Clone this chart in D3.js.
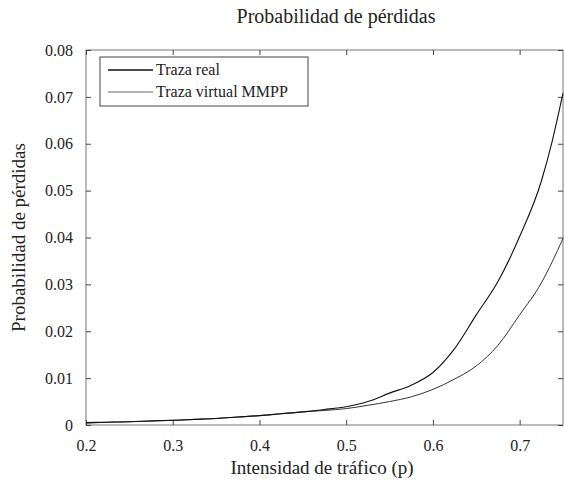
<!DOCTYPE html>
<html>
<head>
<meta charset="utf-8">
<script src="https://cdn.jsdelivr.net/npm/d3@7"></script>
<style>
  html, body { margin: 0; padding: 0; background: #fff; }
  svg { display: block; }
  svg text { font-family: "Liberation Serif", "DejaVu Serif", "Times New Roman", serif; }
</style>
</head>
<body>
<svg id="chart" width="564" height="485"></svg>
<script>
// ---- data ----
const rho = [0.2, 0.225, 0.25, 0.275, 0.3, 0.325, 0.35, 0.375, 0.4, 0.425, 0.45, 0.475,
             0.5, 0.525, 0.55, 0.575, 0.6, 0.625, 0.65, 0.675, 0.7, 0.725, 0.7375, 0.75];
const trazaReal = [0.0005, 0.0006, 0.0007, 0.0009, 0.0010, 0.0012, 0.0014, 0.0017, 0.0020, 0.0024, 0.0028, 0.0033,
                   0.0039, 0.0050, 0.0068, 0.0085, 0.0112, 0.0163, 0.0235, 0.0306, 0.0402, 0.0520, 0.0605, 0.0708];
const trazaVirtual = [0.0004, 0.0006, 0.0007, 0.0008, 0.0010, 0.0012, 0.0014, 0.0017, 0.0020, 0.0024, 0.0028, 0.0031,
                      0.0035, 0.0042, 0.0050, 0.0060, 0.0076, 0.0098, 0.0126, 0.0170, 0.0235, 0.0303, 0.0348, 0.0398];
const xTicks = [0.2, 0.3, 0.4, 0.5, 0.6, 0.7];
const yTicks = [0, 0.01, 0.02, 0.03, 0.04, 0.05, 0.06, 0.07, 0.08];
const seriesNames = ["Traza real", "Traza virtual MMPP"];
const titleText = "Probabilidad de pérdidas";
const xLabel = "Intensidad de tráfico (p)";
const yLabel = "Probabilidad de pérdidas";

// ---- layout ----
const FONT = '"Liberation Serif", "DejaVu Serif", "Times New Roman", serif';
const L = 86, R = 563, T = 50, B = 425;
const svg = d3.select("#chart");
const x = d3.scaleLinear().domain([0.2, 0.75]).range([L, R]);
const y = d3.scaleLinear().domain([0, 0.08]).range([B, T]);
const axisColor = "#777";
const tickLen = 5;

// box
svg.append("rect").attr("x", L).attr("y", T).attr("width", R - L).attr("height", B - T)
  .attr("fill", "none").attr("stroke", axisColor).attr("stroke-width", 1);

function styleAxis(g) {
  g.attr("font-family", FONT);
  g.select(".domain").remove();
  g.selectAll(".tick line").attr("stroke", "#444");
  g.selectAll(".tick text").attr("fill", "#222").attr("font-size", 16)
    .style("font-family", FONT);
}

// bottom axis (ticks inside)
svg.append("g").attr("transform", `translate(0,${B})`)
  .call(d3.axisBottom(x).tickValues(xTicks).tickSizeInner(-tickLen).tickSizeOuter(0)
        .tickPadding(15).tickFormat(d3.format(".1f")))
  .call(styleAxis);
// top ticks
svg.append("g").attr("transform", `translate(0,${T})`)
  .call(d3.axisTop(x).tickValues(xTicks).tickSizeInner(-tickLen).tickSizeOuter(0).tickFormat(""))
  .call(styleAxis);
// left axis
svg.append("g").attr("transform", `translate(${L},0)`)
  .call(d3.axisLeft(y).tickValues(yTicks).tickSizeInner(-tickLen).tickSizeOuter(0)
        .tickPadding(13).tickFormat(d => d === 0 ? "0" : d3.format(".2f")(d)))
  .call(styleAxis);
// right ticks
svg.append("g").attr("transform", `translate(${R},0)`)
  .call(d3.axisRight(y).tickValues(yTicks).tickSizeInner(-tickLen).tickSizeOuter(0).tickFormat(""))
  .call(styleAxis);

// lines
const line = d3.line().x((d, i) => x(rho[i])).y(d => y(d)).curve(d3.curveMonotoneX);
svg.append("path").datum(trazaVirtual).attr("d", line)
  .attr("fill", "none").attr("stroke", "#333").attr("stroke-width", 1);
svg.append("path").datum(trazaReal).attr("d", line)
  .attr("fill", "none").attr("stroke", "#111").attr("stroke-width", 1.1);

// title and labels
svg.append("text").attr("x", 336).attr("y", 23).attr("text-anchor", "middle")
  .style("font-family", FONT).attr("font-size", 20).attr("fill", "#222").text(titleText);
svg.append("text").attr("x", 322).attr("y", 474).attr("text-anchor", "middle")
  .style("font-family", FONT).attr("font-size", 19).attr("fill", "#222").text(xLabel);
svg.append("text").attr("transform", `translate(25,${(T + B) / 2}) rotate(-90)`)
  .style("font-family", FONT).attr("text-anchor", "middle").attr("font-size", 19).attr("fill", "#222").text(yLabel);

// legend
const lg = svg.append("g");
lg.append("rect").attr("x", 100).attr("y", 57).attr("width", 208).attr("height", 49)
  .attr("fill", "#fff").attr("stroke", "#444").attr("stroke-width", 1);
const legendStroke = [["#111", 1.4], ["#555", 0.9]];
seriesNames.forEach((name, i) => {
  const yy = 70 + i * 22;
  lg.append("line").attr("x1", 108).attr("x2", 153).attr("y1", yy).attr("y2", yy)
    .attr("stroke", legendStroke[i][0]).attr("stroke-width", legendStroke[i][1]);
  lg.append("text").attr("x", 156).attr("y", yy + 5).style("font-family", FONT)
    .attr("font-size", 16).attr("fill", "#222").text(name);
});
</script>
</body>
</html>
